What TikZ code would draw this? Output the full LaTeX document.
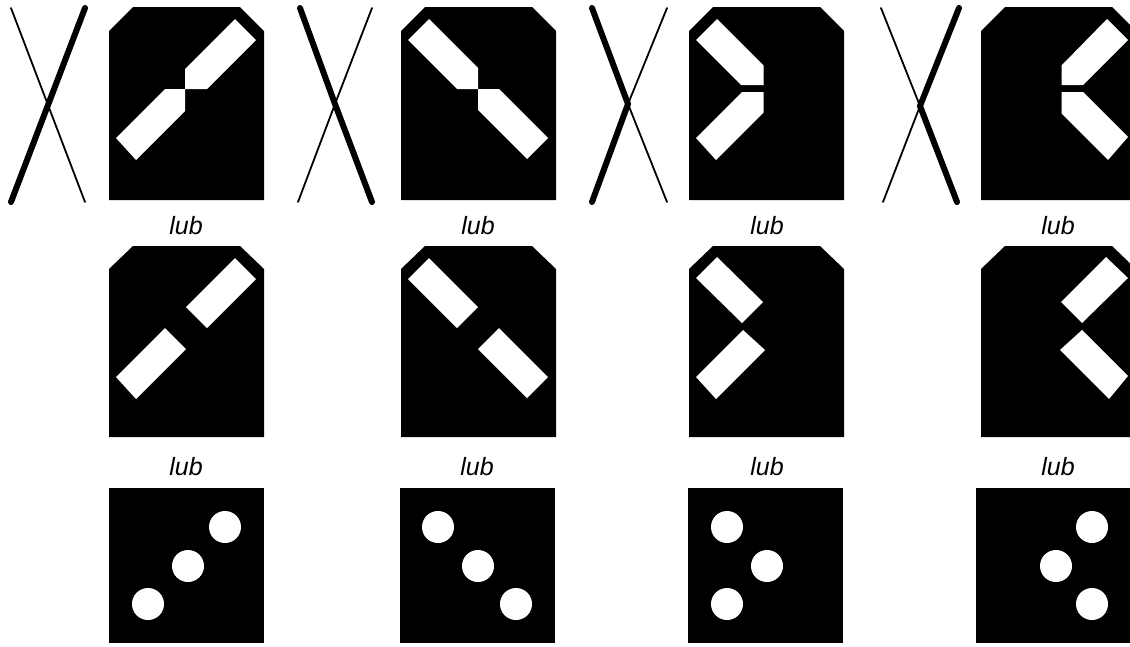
\documentclass[tikz,border=0pt]{standalone}
\usepackage{fontspec}
\setmainfont{Liberation Sans}

\begin{document}
\begin{tikzpicture}[x=1pt,y=-1pt]
  \tikzset{panel/.style={fill=black},
    hole/.style={fill=white},
    thin leg/.style={line width=1.8pt,line cap=round,line join=round},
    thick leg/.style={line width=6pt,line cap=round,line join=round},
    lab/.style={font=\itshape\fontsize{25}{30}\selectfont,anchor=base,inner sep=0}}
  \useasboundingbox (0,0) rectangle (1130,646);
  % crosses
  \coordinate(tl1) at (11,8);
  \coordinate(tr1) at (85,8);
  \coordinate(bl1) at (11,202);
  \coordinate(br1) at (85,202);
  \coordinate(m1) at (48,105);
  \coordinate(tl2) at (300,8);
  \coordinate(tr2) at (372,8);
  \coordinate(bl2) at (298,202);
  \coordinate(br2) at (372,202);
  \coordinate(m2) at (335,104);
  \coordinate(tl3) at (592,8);
  \coordinate(tr3) at (667,8);
  \coordinate(bl3) at (592,202);
  \coordinate(br3) at (667,202);
  \coordinate(m3) at (628,104);
  \coordinate(tl4) at (881,8);
  \coordinate(tr4) at (959,8);
  \coordinate(bl4) at (883,202);
  \coordinate(br4) at (957,202);
  \coordinate(m4) at (920,106);
  \draw[thin leg] (tl1) -- (m1) -- (br1);
  \draw[thick leg] (tr1) -- (m1) -- (bl1);
  \draw[thin leg] (tr2) -- (m2) -- (bl2);
  \draw[thick leg] (tl2) -- (m2) -- (br2);
  \draw[thin leg] (tr3) -- (m3) -- (br3);
  \draw[thick leg] (tl3) -- (m3) -- (bl3);
  \draw[thin leg] (tl4) -- (m4) -- (bl4);
  \draw[thick leg] (tr4) -- (m4) -- (br4);
  % first row
  \begin{scope}[shift={(109,7)}]
    \fill[panel] (0,24) -- (24,0) -- (131,0) -- (155,24) -- (155,193) -- (0,193) -- cycle;
    \fill[hole] (7,131) -- (56,82) -- (76,82) -- (76,104) -- (27,153) -- cycle;
    \fill[hole] (76,62) -- (126,12) -- (147,33) -- (98,82) -- (76,82) -- cycle;
  \end{scope}
  \begin{scope}[shift={(401,7)}]
    \fill[panel] (0,24) -- (24,0) -- (131,0) -- (155,24) -- (155,193) -- (0,193) -- cycle;
    \fill[hole] (7,33) -- (28,12) -- (77,61) -- (77,82) -- (56,82) -- cycle;
    \fill[hole] (77,82) -- (98,82) -- (147,131) -- (126,152) -- (77,103) -- cycle;
  \end{scope}
  \begin{scope}[shift={(689,7)}]
    \fill[panel] (0,24) -- (24,0) -- (131,0) -- (155,24) -- (155,193) -- (0,193) -- cycle;
    \fill[hole] (7,33) -- (28,12) -- (74.5,58.5) -- (74.5,78) -- (52,78) -- cycle;
    \fill[hole] (53,85) -- (74.5,85) -- (74.5,105.5) -- (27,153) -- (7,131) -- cycle;
  \end{scope}
  \begin{scope}[shift={(981,7)}]
    \fill[panel] (0,24) -- (24,0) -- (131,0) -- (155,24) -- (155,193) -- (0,193) -- cycle;
    \fill[hole] (80.5,58.5) -- (126,12) -- (147,33) -- (102,78) -- (80.5,78) -- cycle;
    \fill[hole] (80.5,85) -- (102,85) -- (147,130) -- (127,153) -- (80.5,106.5) -- cycle;
  \end{scope}
  \node[lab](lab11) at (186,234) {lub};
  \node[lab](lab12) at (478,234) {lub};
  \node[lab](lab13) at (767,234) {lub};
  \node[lab](lab14) at (1058,234) {lub};
  % second row
  \begin{scope}[shift={(109,246)}]
    \fill[panel] (0,23) -- (24,0) -- (131,0) -- (155,23) -- (155,191) -- (0,191) -- cycle;
    \fill[hole] (7,131) -- (27,153) -- (77,103) -- (56,82) -- cycle;
    \fill[hole] (77,61) -- (98,82) -- (147,33) -- (126,12) -- cycle;
  \end{scope}
  \begin{scope}[shift={(401,246)}]
    \fill[panel] (0,23) -- (24,0) -- (131,0) -- (155,23) -- (155,191) -- (0,191) -- cycle;
    \fill[hole] (7,33) -- (28,12) -- (77,61) -- (56,82) -- cycle;
    \fill[hole] (77,103) -- (98,82) -- (147,131) -- (126,152) -- cycle;
  \end{scope}
  \begin{scope}[shift={(689,246)}]
    \fill[panel] (0,23) -- (24,0) -- (131,0) -- (155,23) -- (155,191) -- (0,191) -- cycle;
    \fill[hole] (7,32) -- (28,11) -- (74,56) -- (53,77) -- cycle;
    \fill[hole] (54,84) -- (76,104) -- (27,153) -- (7,131) -- cycle;
  \end{scope}
  \begin{scope}[shift={(981,246)}]
    \fill[panel] (0,23) -- (24,0) -- (131,0) -- (155,23) -- (155,191) -- (0,191) -- cycle;
    \fill[hole] (80,56) -- (101,77) -- (147,32) -- (125,11) -- cycle;
    \fill[hole] (79,104) -- (101,84) -- (147,130) -- (128,153) -- cycle;
  \end{scope}
  \node[lab](lab21) at (186,475) {lub};
  \node[lab](lab22) at (477,475) {lub};
  \node[lab](lab23) at (767,475) {lub};
  \node[lab](lab24) at (1058,475) {lub};
  % third row
  \fill[panel] (109,488) rectangle (264,643);
  \fill[panel] (400,488) rectangle (555,643);
  \fill[panel] (688,488) rectangle (843,643);
  \fill[panel] (976,488) rectangle (1131,643);
  \fill[hole] (148,604) circle[radius=16pt];
  \fill[hole] (188,566) circle[radius=16pt];
  \fill[hole] (225,527) circle[radius=16pt];
  \fill[hole] (438,527) circle[radius=16pt];
  \fill[hole] (478,566) circle[radius=16pt];
  \fill[hole] (516,604) circle[radius=16pt];
  \fill[hole] (727,527) circle[radius=16pt];
  \fill[hole] (767,566) circle[radius=16pt];
  \fill[hole] (727,604) circle[radius=16pt];
  \fill[hole] (1092,527) circle[radius=16pt];
  \fill[hole] (1056,566) circle[radius=16pt];
  \fill[hole] (1092,604) circle[radius=16pt];
\end{tikzpicture}
\end{document}
